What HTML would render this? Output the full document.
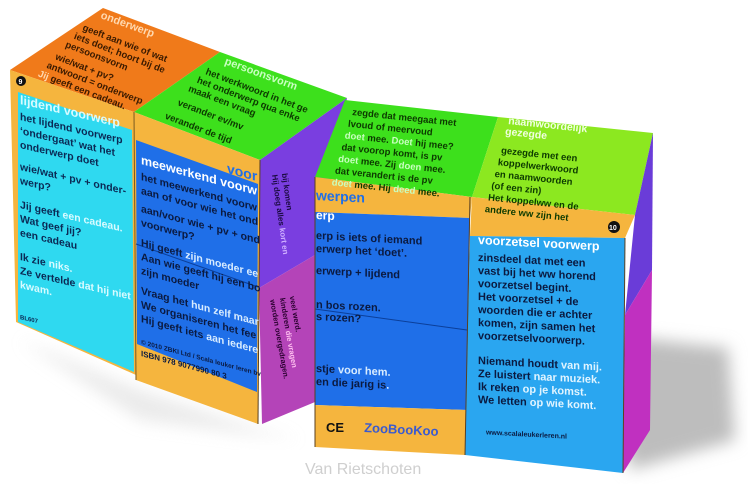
<!DOCTYPE html>
<html><head><meta charset="utf-8"><style>
html,body{margin:0;padding:0;background:#fff;width:750px;height:488px;overflow:hidden}
svg{display:block}
text{font-family:"Liberation Sans","DejaVu Sans",sans-serif;font-weight:bold}
</style></head><body>
<svg width="750" height="488" viewBox="0 0 750 488" xmlns="http://www.w3.org/2000/svg">
<defs><filter id="b"><feGaussianBlur stdDeviation="8"/></filter></defs>
<polygon points="610,335 728,348 735,440 630,470" fill="#bdbdbd" filter="url(#b)"/>
<polygon points="20,340 140,390 260,430 300,440 140,420" fill="#ddd" filter="url(#b)" opacity="0.6"/>

<!-- LEFT CUBE -->
<polygon points="10,70 103,8 220,52 134,112" fill="#f07a1a"/>
<polygon points="134,112 220,52 347,98 260,160" fill="#3de01c"/>
<polygon points="10,70 134,112 136,375 16,322" fill="#f5b53e"/>
<polygon points="18,92 132,130 134,372 18,322" fill="#2fd9f0"/>
<polygon points="134,112 260,160 258,424 136,380" fill="#f5b53e"/>
<polygon points="136,140 258,184 257,392 137,344" fill="#1f6fe8"/>
<line x1="136" y1="244" x2="258" y2="287" stroke="#0b3f9a" stroke-width="1"/>
<polygon points="260,160 347,98 315,255 259,288" fill="#7a3ee0"/>
<polygon points="259,288 315,255 315,402 262,424" fill="#b444b8"/>
<line x1="134" y1="112" x2="136" y2="380" stroke="#7a5a20" stroke-width="1"/>
<line x1="260" y1="160" x2="258" y2="424" stroke="#5a4020" stroke-width="1"/>

<g transform="translate(100,18) rotate(20)"><text x="0" y="0" font-size="11" fill="#ffd9b0">onderwerp</text></g>
<g transform="translate(82,30) rotate(21)" fill="#3a1a00" font-size="9.5">
<text x="0" y="0">geeft aan wie of wat</text>
<text x="-5" y="11">iets doet; hoort bij de</text>
<text x="-10" y="22">persoonsvorm</text>
<text x="-15" y="37">wie/wat + pv?</text>
<text x="-20" y="48">antwoord = onderwerp</text>
<text x="-25" y="59"><tspan fill="#ffd9b0">Jij </tspan>geeft een cadeau.</text>
</g>
<g transform="translate(224,64) rotate(20)"><text font-size="11" fill="#c8ffc0">persoonsvorm</text></g>
<g transform="translate(205,74) rotate(21)" fill="#0c3a00" font-size="9.5">
<text x="0" y="0">het werkwoord in het ge</text>
<text x="-5" y="11">het onderwerp qua enke</text>
<text x="-10" y="22">maak een vraag</text>
<text x="-15" y="39">verander ev/mv</text>
<text x="-22" y="56">verander de tijd</text>
</g>
<circle cx="21" cy="81" r="5" fill="#111"/><text x="18.5" y="84" font-size="7" fill="#fff">9</text>

<!-- cyan face text -->
<g transform="translate(20,104) skewY(13)" font-size="10.5">
<text x="0" y="0" fill="#d8fbff" font-size="12.5">lijdend voorwerp</text>
<g fill="#0b2a55">
<text x="0" y="16">het lijdend voorwerp</text>
<text x="0" y="30">‘ondergaat’ wat het</text>
<text x="0" y="44">onderwerp doet</text>
<text x="0" y="66">wie/wat + pv + onder-</text>
<text x="0" y="80">werp?</text>
<text x="0" y="104">Jij geeft <tspan fill="#d8fbff">een cadeau.</tspan></text>
<text x="0" y="118">Wat geef jij?</text>
<text x="0" y="132">een cadeau</text>
<text x="0" y="156">Ik zie <tspan fill="#d8fbff">niks.</tspan></text>
<text x="0" y="170">Ze vertelde <tspan fill="#d8fbff">dat hij niet</tspan></text>
<text x="0" y="184" fill="#d8fbff">kwam.</text>
<text x="0" y="215" font-size="6">BL607</text>
</g></g>

<!-- middle face text -->
<g transform="translate(141,152) skewY(15)" font-size="10.5">
<text x="86" y="-2" fill="#1f6fe8" font-size="14">voor</text>
<text x="0" y="12" fill="#fff" font-size="12.5">meewerkend voorw</text>
<g fill="#0b1a40">
<text x="0" y="28">het meewerkend voorw</text>
<text x="0" y="42">aan of voor wie het ond</text>
<text x="0" y="60">aan/voor wie + pv + ond</text>
<text x="0" y="74">voorwerp?</text>
<text x="0" y="94">Hij geeft <tspan fill="#d8ecff">zijn moeder ee</tspan></text>
<text x="0" y="108">Aan wie geeft hij een bo</text>
<text x="0" y="122">zijn moeder</text>
<text x="0" y="142">Vraag het <tspan fill="#d8ecff">hun zelf maar</tspan></text>
<text x="0" y="156">We organiseren het fee</text>
<text x="0" y="170">Hij geeft iets <tspan fill="#d8ecff">aan iedere</tspan></text>
<text x="0" y="192" font-size="6.5">© 2010 ZBKI Ltd / Scala leuker leren bv</text>
<text x="0" y="204" font-size="8">ISBN 978 9077990 80 3</text>
</g></g>
<g transform="translate(272,175) rotate(82)" font-size="8" fill="#1a0a40">
<text x="0" y="0">Hij doeg alles <tspan fill="#d0b0ff">kort en</tspan></text>
<text x="0" y="-10">bij komen</text>
</g>
<g transform="translate(270,300) rotate(80)" font-size="7.5" fill="#2a0030">
<text x="0" y="0">worden overgedragen.</text>
<text x="0" y="-10">kinderen <tspan fill="#ffc0f0">die vragen</tspan></text>
<text x="0" y="-20">veel werd.</text>
</g>

<!-- RIGHT CUBE -->
<polygon points="345,100 498,117 472,197 315,177" fill="#3de01c"/>
<polygon points="498,117 653,133 635,215 472,197" fill="#8ce820"/>
<polygon points="315,177 472,197 470,218 315,212" fill="#f5b53e"/>
<polygon points="472,197 635,215 625,238 470,236" fill="#f5b53e"/>
<polygon points="315,212 470,218 467,410 315,405" fill="#1f6fe8"/>
<polygon points="315,405 467,410 465,455 315,447" fill="#f5b53e"/>
<polygon points="470,236 625,238 623,473 465,455" fill="#2aa6f0"/>
<line x1="315" y1="309" x2="467" y2="330" stroke="#0b3f9a"/>
<line x1="470" y1="197" x2="465" y2="455" stroke="#5a4020"/>
<polygon points="635,215 653,133 652,270 625,315" fill="#6a3cd8"/>
<polygon points="625,315 652,270 650,430 623,473" fill="#c030c0"/>
<line x1="625" y1="238" x2="623" y2="473" stroke="#5a4020"/>
<line x1="315" y1="177" x2="315" y2="447" stroke="#5a4020"/>

<g transform="translate(352,115) rotate(6)" font-size="9.5" fill="#0c3a00">
<text x="0" y="0">zegde dat meegaat met</text>
<text x="-3" y="12">lvoud of meervoud</text>
<text x="-5" y="24"><tspan fill="#c8ffc0">doet</tspan> mee. <tspan fill="#c8ffc0">Doet</tspan> hij mee?</text>
<text x="-7" y="36">dat voorop komt, is pv</text>
<text x="-9" y="48"><tspan fill="#c8ffc0">doet</tspan> mee. Zij <tspan fill="#c8ffc0">doen</tspan> mee.</text>
<text x="-11" y="60">dat verandert is de pv</text>
<text x="-13" y="72"><tspan fill="#c8ffc0">doet</tspan> mee. Hij <tspan fill="#c8ffc0">deed</tspan> mee.</text>
</g>
<g transform="translate(508,124) rotate(6)" font-size="9.5">
<text x="0" y="0" fill="#f0ffe0" font-size="10.5">naamwoordelijk</text>
<text x="-2" y="11" fill="#f0ffe0" font-size="10.5">gezegde</text>
<g fill="#0c3a00">
<text x="-4" y="30">gezegde met een</text>
<text x="-6" y="42">koppelwerkwoord</text>
<text x="-8" y="54">en naamwoorden</text>
<text x="-10" y="66">(of een zin)</text>
<text x="-12" y="78">Het koppelww en de</text>
<text x="-14" y="90">andere ww zijn het</text>
</g></g>
<circle cx="614" cy="227" r="6" fill="#111"/><text x="609" y="230" font-size="7" fill="#fff">10</text>

<g transform="translate(316,200) skewY(3)" font-size="11">
<text x="0" y="0" fill="#1f6fe8" font-size="14">werpen</text>
<text x="0" y="19" fill="#fff" font-size="12">erp</text>
<g fill="#0b1a40">
<text x="0" y="39">erp is iets of iemand</text>
<text x="0" y="52">erwerp het ‘doet’.</text>
<text x="0" y="74">erwerp + lijdend</text>
<text x="0" y="108">n bos rozen.</text>
<text x="0" y="120">s rozen?</text>
<text x="0" y="172">stje <tspan fill="#d8ecff">voor hem.</tspan></text>
<text x="0" y="185">en die jarig is<tspan fill="#d8ecff">.</tspan></text>
</g></g>
<text x="326" y="432" font-size="13" fill="#111">CE</text>
<text x="364" y="432" font-size="13" fill="#3a5ad0" transform="rotate(3 364 432)">ZooBooKoo</text>

<g transform="translate(478,244) skewY(3)" font-size="11">
<text x="0" y="0" fill="#fff" font-size="12.5">voorzetsel voorwerp</text>
<g fill="#0b1a40">
<text x="0" y="17">zinsdeel dat met een</text>
<text x="0" y="30">vast bij het ww horend</text>
<text x="0" y="43">voorzetsel begint.</text>
<text x="0" y="56">Het voorzetsel + de</text>
<text x="0" y="69">woorden die er achter</text>
<text x="0" y="82">komen, zijn samen het</text>
<text x="0" y="95">voorzetselvoorwerp.</text>
<text x="0" y="120">Niemand houdt <tspan fill="#e0f4ff">van mij.</tspan></text>
<text x="0" y="133">Ze luistert <tspan fill="#e0f4ff">naar muziek.</tspan></text>
<text x="0" y="146">Ik reken <tspan fill="#e0f4ff">op je komst.</tspan></text>
<text x="0" y="159">We letten <tspan fill="#e0f4ff">op wie komt.</tspan></text>
<text x="8" y="190" font-size="7">www.scalaleukerleren.nl</text>
</g></g>

<text x="305" y="474" font-size="16" fill="#cfcfcf" style="font-weight:normal">Van Rietschoten</text>
</svg>
</body></html>
